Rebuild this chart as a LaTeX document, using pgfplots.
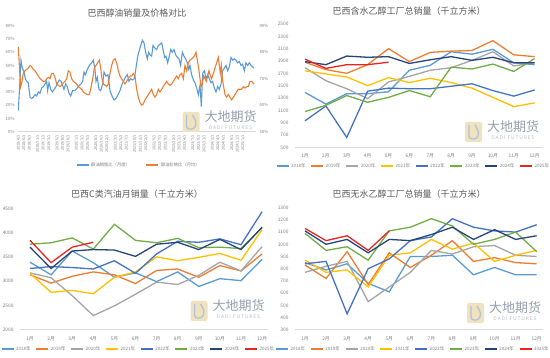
\documentclass[border=0pt]{standalone}
\usepackage{pgfplots}
\pgfplotsset{compat=1.18}
\usepackage{pgfplotstable}
\usepackage{fontspec}
\setmainfont{Noto Sans CJK SC}

\definecolor{c18}{HTML}{5B9BD5}
\definecolor{c19}{HTML}{ED7D31}
\definecolor{c20}{HTML}{A5A5A5}
\definecolor{c21}{HTML}{FFC000}
\definecolor{c22}{HTML}{4472C4}
\definecolor{c23}{HTML}{70AD47}
\definecolor{c24}{HTML}{264478}
\definecolor{c25}{HTML}{E8251F}
\definecolor{txt}{HTML}{595959}
\definecolor{tck}{HTML}{7F7F7F}
\definecolor{axl}{HTML}{D9D9D9}
\definecolor{wmtxt}{RGB}{150,158,172}
\definecolor{wmsub}{RGB}{185,190,200}
\definecolor{wmgold}{RGB}{240,226,190}
\definecolor{wmblue}{RGB}{175,195,220}

\pgfplotstableread{
m y18 y19 y20 y21 y22 y23 y24 y25
1 1390 1880 1790 1740 930 1080 1890 1930
2 1200 1760 1580 1690 1170 1180 1840 1780
3 1370 1700 1450 1640 660 1340 1980 1840
4 1370 1840 1290 1500 1410 1230 1960 1840
5 1400 2100 1560 1630 1460 1310 1970 1880
6 1750 1890 1650 1550 1450 1420 1860 nan
7 1830 2040 1750 1620 1450 1320 1920 nan
8 2050 2060 1790 1550 1490 1800 1970 nan
9 2010 2070 1910 1460 1530 1770 1910 nan
10 2090 2230 2050 1310 1420 1850 1960 nan
11 1870 2000 1820 1160 1330 1730 1870 nan
12 1840 1970 1870 1220 1430 1940 1870 nan
}\tabTR

\pgfplotstableread{
m y18 y19 y20 y21 y22 y23 y24 y25
1 3390 3130 3170 3160 3260 3760 3700 3840
2 3130 2960 3070 2770 3300 3790 3260 3380
3 3620 3100 2700 2810 3280 3890 3620 3700
4 3380 3190 2290 2740 3250 3660 3650 3800
5 3080 3130 2490 3080 3420 4170 3640 nan
6 3170 2950 2730 3190 3160 3840 3510 nan
7 2990 3220 2980 3500 3560 3790 3760 nan
8 3190 3250 2930 3420 3820 3880 3800 nan
9 2890 3080 3120 3490 3800 3690 3650 nan
10 3050 3320 3390 3570 3870 3700 3860 nan
11 3010 3210 3210 3430 3750 3670 3650 nan
12 3450 3560 3710 4060 4430 4100 4110 nan
}\tabBL

\pgfplotstableread{
m y18 y19 y20 y21 y22 y23 y24 y25
1 850 830 770 870 840 1090 1110 1130
2 790 720 820 770 860 950 1000 1030
3 840 940 860 790 430 980 1040 1070
4 680 670 530 650 800 870 930 950
5 610 930 650 910 880 1110 1040 1110
6 900 810 770 930 1030 1140 1030 nan
7 900 910 950 1040 1060 1210 1080 nan
8 910 1030 920 960 1210 1150 1140 nan
9 750 860 980 1010 1140 1000 1040 nan
10 810 890 990 860 1110 1040 1120 nan
11 750 850 910 910 1100 1100 1040 nan
12 750 840 900 950 1160 940 1070 nan
}\tabBR

\pgfplotsset{
  basepanel/.style={
    scale only axis,
    axis line style={draw=none}, tick style={draw=none},
    tick label style={font=\fontsize{4.8}{5}\selectfont, text=tck},
    /pgf/number format/assume math mode=true,
    /pgf/number format/1000 sep={},
    clip=false,
    unbounded coords=jump,
    legend image code/.code={\draw[##1] (0pt,0pt) -- (12pt,0pt);},
  },
  monthpanel/.style={
    basepanel,
    width=248pt,
    xtick={1,...,12},
    xticklabels={1月,2月,3月,4月,5月,6月,7月,8月,9月,10月,11月,12月},
    xticklabel style={yshift=-3pt},
    yticklabel style={xshift=-3pt},
    legend columns=8,
    legend style={draw=none, fill=none, font=\fontsize{4.5}{5}\selectfont, text=tck, anchor=center,
      /tikz/every even column/.append style={column sep=3pt}},
    every axis plot/.append style={line width=1.3pt, mark=none},
  },
}

\newcommand{\yearplots}[1]{%
  \addplot[c18] table[x=m,y=y18] {#1}; \addlegendentry{2018年}
  \addplot[c19] table[x=m,y=y19] {#1}; \addlegendentry{2019年}
  \addplot[c20] table[x=m,y=y20] {#1}; \addlegendentry{2020年}
  \addplot[c21] table[x=m,y=y21] {#1}; \addlegendentry{2021年}
  \addplot[c22] table[x=m,y=y22] {#1}; \addlegendentry{2022年}
  \addplot[c23] table[x=m,y=y23] {#1}; \addlegendentry{2023年}
  \addplot[c24] table[x=m,y=y24] {#1}; \addlegendentry{2024年}
  \addplot[c25] table[x=m,y=y25] {#1}; \addlegendentry{2025年}
  \draw[axl, line width=0.6pt] (rel axis cs:0,0) -- (rel axis cs:1,0);
}

\newcommand{\wm}[2]{%
  \begin{scope}[shift={(#1pt,#2pt)}]
    \fill[wmgold, rounded corners=2pt] (-48pt,-14pt) rectangle (-31pt,6pt);
    \draw[wmblue, line width=1.3pt, rounded corners=3pt] (-44pt,3pt) -- (-44pt,-11pt) -- (-36pt,-11pt) -- (-34pt,-4pt) -- (-38pt,3pt);
    \node[font=\fontsize{13}{13}\selectfont, text=wmtxt, inner sep=0pt] at (0pt,1pt) {大地期货};
    \node[font=\fontsize{5}{5}\selectfont, text=wmsub, inner sep=0pt] at (0pt,-9.5pt) {D\,A\,D\,I\ \ F\,U\,T\,U\,R\,E\,S};
  \end{scope}
}

\begin{document}
\begin{tikzpicture}
\useasboundingbox (0pt,0pt) rectangle (550pt,358pt);

% ---------------- top-left: left axis (sales ratio)
\begin{axis}[basepanel,
  at={(18pt,226.3pt)}, anchor=south west, width=238pt, height=106pt,
  xmin=54, xmax=768, ymin=0, ymax=80,
  ytick={0,10,...,80},
  yticklabel={\pgfmathprintnumber{\tick}\%},
  yticklabel style={font=\fontsize{4.3}{5}\selectfont},
  xtick={55,71.6,88.3,113.2,129.9,146.5,171.5,188.1,204.8,229.7,246.4,263,288,304.6,321.2,346.2,362.8,379.5,404.4,421.1,437.7,462.7,479.3,496,520.9,537.6,554.2,579.2,595.8,612.4,637.4,654,670.7,695.6,712.3,728.9},
  xticklabels={2018/4/1,2018/6/1,2018/8/1,2018/11/1,2019/1/1,2019/3/1,2019/6/1,2019/8/1,2019/10/1,2020/1/1,2020/3/1,2020/5/1,2020/8/1,2020/10/1,2020/12/1,2021/3/1,2021/5/1,2021/7/1,2021/10/1,2021/12/1,2022/2/1,2022/5/1,2022/7/1,2022/9/1,2022/12/1,2023/2/1,2023/4/1,2023/7/1,2023/9/1,2023/11/1,2024/2/1,2024/4/1,2024/6/1,2024/9/1,2024/11/1,2025/1/1},
  xticklabel style={rotate=90, anchor=east, font=\fontsize{3.8}{4}\selectfont},
  legend columns=2,
  legend style={draw=none, fill=none, font=\fontsize{4.3}{5}\selectfont, text=tck, anchor=center, at={(0.508,-0.314)},
    /tikz/every even column/.append style={column sep=14pt}},
]
\addplot[c18, line width=1.1pt] coordinates {
(55,16) (58,30) (63,54) (67,48) (72,45) (76,40) (80,38) (85,37) (90,26) (95,25) (100,26) (105,28) (110,27) (115,30) (120,29) (125,33) (130,34) (135,36) (140,38) (143,31) (147,37) (152,32) (157,30) (163,32) (168,34) (173,37) (178,39) (183,38) (188,35) (192,32) (197,36) (202,34) (207,29) (212,27) (218,31) (225,31) (232,33) (238,35) (243,36) (248,38) (252,45) (256,43) (262,47) (268,50) (275,52) (280,54) (285,47) (288,38) (292,41) (297,32) (302,31) (308,36) (312,45) (318,42) (324,43) (330,31) (336,27) (342,24) (348,25) (354,28) (360,31) (365,35) (370,38) (376,41) (382,43) (387,38) (392,40) (397,39) (403,40) (408,48) (413,57) (420,63) (427,69) (432,67) (437,60) (442,55) (446,60) (450,58) (455,57) (459,65) (465,63) (470,62) (475,65) (480,66) (485,67) (490,61) (494,56) (498,57) (503,52) (508,57) (512,62) (517,60) (522,62) (527,58) (532,56) (537,55) (542,50) (547,60) (552,57) (557,55) (562,52) (566,47) (570,50) (575,43) (580,39) (585,37) (590,33) (595,28) (600,35) (604,19) (608,44) (613,46) (618,40) (623,43) (628,40) (633,37) (638,38) (643,33) (648,30) (653,34) (658,32) (663,36) (668,46) (673,48) (678,50) (683,46) (688,49) (693,56) (698,54) (703,55) (708,54) (713,52) (718,53) (723,50) (728,51) (733,46) (738,52) (743,50) (748,52) (753,50) (762,48)
};
\addlegendentry{醇油销售比（月度）}
\addlegendimage{c19, line width=1.1pt}
\addlegendentry{醇油价格比（月均）}
\draw[axl, line width=0.6pt] (rel axis cs:0,0) -- (rel axis cs:1,0);
\end{axis}

% ---------------- top-left: right axis (price ratio)
\begin{axis}[basepanel,
  at={(18pt,226.3pt)}, anchor=south west, width=238pt, height=106pt,
  xmin=54, xmax=768, ymin=50, ymax=90,
  ytick={50,60,...,90},
  yticklabel={\pgfmathprintnumber{\tick}\%},
  yticklabel pos=right,
  yticklabel style={font=\fontsize{4.3}{5}\selectfont},
  xtick=\empty,
]
\addplot[c19, line width=1.1pt] coordinates {
(55,82) (58,75) (62,67) (66,69) (70,72) (75,73) (80,73.5) (85,74) (90,75) (95,74.5) (100,73.5) (105,73) (110,72) (115,71) (120,70) (125,69.5) (130,69) (135,69) (140,70) (145,70.5) (150,70) (155,72) (160,72) (165,70.5) (170,68) (175,67.5) (180,67) (185,67.5) (190,68.5) (195,69) (200,70) (205,73) (210,72.5) (215,70) (220,69) (225,68.5) (230,68) (235,67) (240,66.5) (245,66) (250,65) (255,64.5) (262,64) (268,64) (272,66) (278,70) (283,74) (288,75) (293,76) (298,77) (302,74) (306,70) (310,68) (315,67.5) (320,67) (325,68) (330,72) (335,75) (340,77) (345,77.5) (350,76) (355,73) (360,71) (365,70) (370,69) (375,68) (380,69) (385,70) (390,71) (395,71) (400,72) (405,71) (410,66) (415,63) (420,61) (425,60) (430,60.5) (435,62) (440,63) (445,64) (450,65) (455,66) (460,64) (465,63) (470,64) (475,66) (480,65) (485,66) (490,67) (495,68) (500,69) (505,68) (510,67.5) (515,68) (520,69) (525,70) (530,71) (535,70) (540,71.5) (545,72) (550,70) (555,75) (560,73) (565,76) (570,77) (575,77.5) (580,78) (585,79) (588,80) (592,77) (596,74) (600,70) (603,67) (607,68) (611,71) (615,70) (619,69) (623,71) (627,73) (631,71) (635,70) (640,72) (645,74) (650,76) (655,78) (658,75) (661,72) (664,75) (667,70) (671,67) (675,64) (680,63) (685,64) (690,63) (695,62) (700,63) (705,64) (710,65) (715,66) (720,66) (725,66) (730,67) (735,66.5) (740,67) (745,67) (750,69) (755,69) (762,68)
};
\end{axis}

% ---------------- top-right: hydrous ethanol
\begin{axis}[monthpanel,
  at={(295pt,210.7pt)}, anchor=south west, height=123.3pt,
  xmin=0.52, xmax=12.4, ymin=500, ymax=2500, ytick={500,700,...,2500},
  legend style={at={(0.478,-0.152)}},
]
\yearplots{\tabTR}
\end{axis}

% ---------------- bottom-left: gasoline C
\begin{axis}[monthpanel,
  at={(20pt,28.3pt)}, anchor=south west, height=121.4pt,
  xmin=0.526, xmax=12.28, ymin=2000, ymax=4500, ytick={2000,2500,...,4500},
  legend style={at={(0.478,-0.159)}},
]
\yearplots{\tabBL}
\end{axis}

% ---------------- bottom-right: anhydrous ethanol
\begin{axis}[monthpanel,
  at={(295pt,28.3pt)}, anchor=south west, height=122pt,
  xmin=0.525, xmax=12.30, ymin=300, ymax=1300, ytick={300,400,...,1300},
  legend style={at={(0.476,-0.158)}},
]
\yearplots{\tabBR}
\end{axis}

% titles
\node[font=\fontsize{9}{10}\selectfont, text=txt] at (137pt,345pt) {巴西醇油销量及价格对比};
\node[font=\fontsize{9}{10}\selectfont, text=txt] at (409pt,346.5pt) {巴西含水乙醇工厂总销量（千立方米）};
\node[font=\fontsize{9}{10}\selectfont, text=txt] at (137pt,164pt) {巴西C类汽油月销量（千立方米）};
\node[font=\fontsize{9}{10}\selectfont, text=txt] at (409pt,164pt) {巴西无水乙醇工厂总销量（千立方米）};

% watermarks
\wm{230.5}{240}
\wm{513}{230}
\wm{238.5}{51}
\wm{515}{49}
\end{tikzpicture}
\end{document}
